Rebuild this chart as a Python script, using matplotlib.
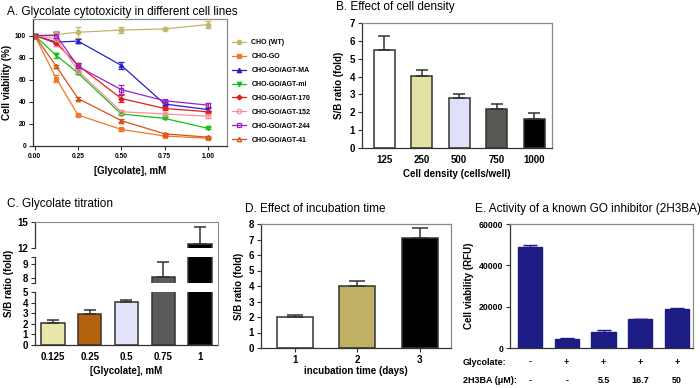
import numpy as np
import matplotlib
matplotlib.use('Agg')
import matplotlib.pyplot as plt
from matplotlib.transforms import blended_transform_factory

plt.rcParams['font.family'] = ['Liberation Sans', 'DejaVu Sans']

# ---- data ----
# A: glycolate cytotoxicity
conc_a = [0, 0.125, 0.25, 0.5, 0.75, 1.0]
names_a = ['CHO (WT)', 'CHO-GO', 'CHO-GO/AGT-MA', 'CHO-GO/AGT-mi',
           'CHO-GO/AGT-170', 'CHO-GO/AGT-152', 'CHO-GO/AGT-244', 'CHO-GO/AGT-41']
via_wt = [100, 101, 103, 105, 106, 110]
via_go = [100, 61, 28, 15, 9, 7]
via_ma = [100, 94, 95, 73, 38, 33]
via_mi = [100, 82, 66, 29, 25, 16]
via_170 = [100, 93, 73, 43, 34, 31]
via_152 = [100, 97, 68, 31, 29, 27]
via_244 = [100, 100, 72, 51, 41, 37]
via_41 = [100, 72, 43, 23, 11, 8]
err_wt = [1, 3, 5, 3, 1, 3]
err_go = [1, 3, 1, 1, 1, 1]
err_ma = [1, 1, 2, 3, 1, 1]
err_mi = [1, 2, 1, 1, 1, 1]
err_170 = [1, 2, 2, 3, 1, 1]
err_152 = [1, 6, 2, 2, 1, 2]
err_244 = [1, 3, 3, 4, 1, 2]
err_41 = [1, 1, 1, 1, 1, 1]

# B: cell density
dens_lbl = ['125', '250', '500', '750', '1000']
dens_val = [5.5, 4.05, 2.8, 2.2, 1.65]
dens_err = [0.8, 0.3, 0.2, 0.25, 0.3]

# C: glycolate titration
tit_lbl = ['0.125', '0.25', '0.5', '0.75', '1']
tit_val = [2.05, 2.95, 4.05, 8.07, 12.5]
tit_err = [0.3, 0.35, 0.25, 1.05, 1.9]

# D: incubation time
inc_lbl = ['1', '2', '3']
inc_val = [2.0, 4.0, 7.1]
inc_err = [0.15, 0.3, 0.65]

# E: 2H3BA inhibitor
inh_val = [49000, 4500, 7700, 13800, 18700]
inh_err = [1000, 500, 800, 400, 600]
glyc_row = ['-', '+', '+', '+', '+']
hba_row = ['-', '-', '5.5', '16.7', '50']

W, H = 700, 388
fig = plt.figure(figsize=(7, 3.88), dpi=100)

def box(l, t, r, b):
    return [l / W, (H - b) / H, (r - l) / W, (b - t) / H]

def style(ax, tsize=7):
    for s in ['left', 'bottom']:
        ax.spines[s].set_color('#333333')
    for s in ['top', 'right']:
        ax.spines[s].set_color('#8a8a8a')
    for s in ax.spines.values():
        s.set_linewidth(0.9)
    ax.tick_params(labelsize=tsize, length=3, width=0.8, pad=2, color='#333333')
    for lab in ax.get_xticklabels() + ax.get_yticklabels():
        lab.set_fontweight('bold')

# ---- A ----
axA = fig.add_axes(box(33, 19, 227, 146))
series = [
    (via_wt, err_wt, '#c4b46c', 'o', True),
    (via_go, err_go, '#f07828', 's', True),
    (via_ma, err_ma, '#2424c8', '^', True),
    (via_mi, err_mi, '#18c018', 'v', True),
    (via_170, err_170, '#e81c1c', 'P', True),
    (via_152, err_152, '#f49494', 'o', False),
    (via_244, err_244, '#9a22c4', 's', False),
    (via_41, err_41, '#d45414', '^', False),
]
handles = []
for (v, e, c, m, filled), nm in zip(series, names_a):
    cont = axA.errorbar(conc_a, v, yerr=e, color=c, marker=m, ms=3.2, lw=0.9,
                        mfc=c if filled else 'none', mec=c, mew=0.9,
                        capsize=2, elinewidth=0.8, capthick=0.8, label=nm)
    handles.append(cont[0])
axA.set_xlim(-0.01, 1.11)
axA.set_ylim(0, 115)
axA.set_xticks([0, 0.25, 0.5, 0.75, 1.0])
axA.set_xticklabels(['0.00', '0.25', '0.50', '0.75', '1.00'])
axA.set_yticks([0, 20, 40, 60, 80, 100])
style(axA, 4.8)
axA.set_xlabel('[Glycolate], mM', fontsize=7, fontweight='bold', labelpad=4)
axA.set_ylabel('Cell viability (%)', fontsize=7, fontweight='bold', labelpad=2)
leg = axA.legend(handles=handles, labels=names_a, loc='upper left',
                 bbox_to_anchor=(1.0, 0.88), frameon=False,
                 prop={'size': 5.0, 'weight': 'bold'}, handlelength=2.0,
                 labelspacing=1.0, borderaxespad=0.3, handletextpad=0.8)
fig.text(7 / W, 1 - 12 / H, 'A. Glycolate cytotoxicity in different cell lines',
         fontsize=8.5, va='center')

# ---- B ----
axB = fig.add_axes(box(362, 23, 552, 148))
xb = np.arange(len(dens_val))
colB = ['white', '#e2e2a4', '#e0e0fa', '#585854', 'black']
axB.bar(xb, dens_val, width=0.56, color=colB, edgecolor='#333333', lw=1.1)
axB.errorbar(xb, dens_val, yerr=[np.zeros(5), dens_err], fmt='none',
             ecolor='#333333', capsize=4, elinewidth=1.1, capthick=1.1)
axB.set_xlim(-0.59, 4.48)
axB.set_ylim(0, 7)
axB.set_xticks(xb)
axB.set_xticklabels(dens_lbl)
axB.set_yticks(range(8))
style(axB)
axB.tick_params(axis='x', length=0, pad=5)
axB.set_xlabel('Cell density (cells/well)', fontsize=7, fontweight='bold', labelpad=3)
axB.set_ylabel('S/B ratio (fold)', fontsize=7, fontweight='bold', labelpad=4)
fig.text(336 / W, 1 - 7 / H, 'B. Effect of cell density', fontsize=8.5, va='center')

# ---- C (broken axis) ----
colC = ['#e8e6a8', '#b4620e', '#e4e4fa', '#5a5a58', 'black']
xc = np.arange(len(tit_val))
segs = [((0, 5), [0, 1, 2, 3, 4, 5], box(35, 292.3, 218, 345)),
        ((7.63, 9.45), [8, 9], box(35, 257.3, 218, 283.3)),
        ((12, 15), [12, 15], box(35, 221.7, 218, 248))]
for i, (lim, ticks, pos) in enumerate(segs):
    ax = fig.add_axes(pos)
    ax.patch.set_alpha(0)
    ax.bar(xc, tit_val, width=0.63, color=colC, edgecolor='#333333', lw=1.1)
    ax.errorbar(xc, tit_val, yerr=[np.zeros(5), tit_err], fmt='none',
                ecolor='#333333', capsize=4, elinewidth=1.1, capthick=1.1)
    ax.set_xlim(-0.49, 4.49)
    ax.set_ylim(*lim)
    ax.set_yticks(ticks)
    ax.set_yticks(list(lim), minor=True)
    style(ax)
    ax.tick_params(axis='y', which='minor', length=3, width=0.8, color='#333333')
    ax.spines['top'].set_visible(False)
    ax.spines['right'].set_visible(False)
    if i == 0:
        ax.set_xticks(xc)
        ax.set_xticklabels(tit_lbl)
        ax.tick_params(axis='x', length=0, pad=5)
        for lab in ax.get_xticklabels():
            lab.set_fontweight('bold')
        ax.set_xlabel('[Glycolate], mM', fontsize=7, fontweight='bold', labelpad=3)
    else:
        ax.spines['bottom'].set_visible(False)
        ax.set_xticks([])
frame = fig.add_axes(box(35, 221.7, 218, 345))
frame.patch.set_alpha(0)
frame.set_xticks([])
frame.set_yticks([])
frame.spines['left'].set_visible(False)
frame.spines['bottom'].set_visible(False)
frame.spines['top'].set_color('#8a8a8a')
frame.spines['right'].set_color('#8a8a8a')
fig.text(9 / W, 1 - 283 / H, 'S/B ratio (fold)', fontsize=7, fontweight='bold',
         rotation=90, va='center', ha='center')
fig.text(7 / W, 1 - 204 / H, 'C. Glycolate titration', fontsize=8.5, va='center')

# ---- D ----
axD = fig.add_axes(box(261, 224, 451, 348))
xd = np.arange(len(inc_val))
colD = ['white', '#bfb063', 'black']
axD.bar(xd, inc_val, width=0.58, color=colD, edgecolor='#333333', lw=1.1)
axD.errorbar(xd, inc_val, yerr=[np.zeros(3), inc_err], fmt='none',
             ecolor='#333333', capsize=6, elinewidth=1.1, capthick=1.1)
axD.set_xlim(-0.54, 2.5)
axD.set_ylim(0, 8)
axD.set_xticks(xd)
axD.set_xticklabels(inc_lbl)
axD.set_yticks(range(9))
style(axD)
axD.set_xlabel('incubation time (days)', fontsize=7, fontweight='bold', labelpad=1)
axD.set_ylabel('S/B ratio (fold)', fontsize=7, fontweight='bold', labelpad=3)
fig.text(245 / W, 1 - 209 / H, 'D. Effect of incubation time', fontsize=8.5, va='center')

# ---- E ----
axE = fig.add_axes(box(510, 224, 693, 348))
xe = np.arange(len(inh_val))
axE.bar(xe, inh_val, width=0.66, color='#1c1c84', edgecolor='#1c1c84')
axE.errorbar(xe, inh_val, yerr=[np.zeros(5), inh_err], fmt='none',
             ecolor='#1c1c84', capsize=5, elinewidth=1.0, capthick=1.0)
axE.set_xlim(-0.54, 4.43)
axE.set_ylim(0, 60000)
axE.set_yticks([0, 20000, 40000, 60000])
axE.set_xticks([])
style(axE, 6.3)
axE.set_ylabel('Cell viability (RFU)', fontsize=7, fontweight='bold', labelpad=3)
tr = blended_transform_factory(axE.transData, axE.transAxes)
axE.text(-0.257, -0.113, 'Glycolate:', transform=axE.transAxes, fontsize=6.5,
         fontweight='bold', ha='left', va='center')
axE.text(-0.257, -0.26, '2H3BA (\u03bcM):', transform=axE.transAxes, fontsize=6.5,
         fontweight='bold', ha='left', va='center')
for x, g, h in zip(xe, glyc_row, hba_row):
    axE.text(x, -0.113, g, transform=tr, fontsize=6.5, fontweight='bold',
             ha='center', va='center')
    axE.text(x, -0.26, h, transform=tr, fontsize=6.5, fontweight='bold',
             ha='center', va='center')
fig.text(475 / W, 1 - 209 / H, 'E. Activity of a known GO inhibitor (2H3BA)',
         fontsize=8.5, va='center')

fig.savefig('out.png', dpi=100)
